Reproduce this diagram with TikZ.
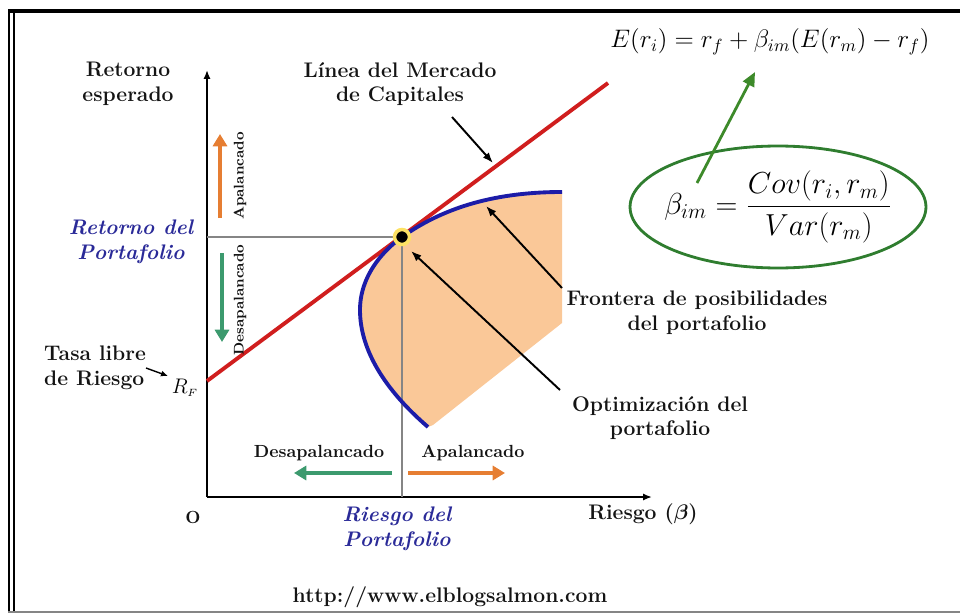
\documentclass[tikz,border=0pt]{standalone}
\usepackage{amsmath}
\usepackage{xcolor}
\usepackage{tikz}
\usetikzlibrary{arrows.meta}
\usetikzlibrary{shapes}

\definecolor{capred}{HTML}{D01E1E}
\definecolor{frontblue}{HTML}{1C1CA8}
\definecolor{labelblue}{HTML}{2A2A98}
\definecolor{regionfill}{HTML}{FAC898}
\definecolor{levorange}{HTML}{E67E32}
\definecolor{delevgreen}{HTML}{3C9A6E}
\definecolor{ovalgreen}{HTML}{2F7D2F}
\definecolor{guidegray}{HTML}{858585}

\begin{document}
\begin{tikzpicture}[x=0.02cm, y=-0.02cm,
  lbl/.style={font=\large\bfseries, align=center, text=black!92},
  bluelbl/.style={font=\large\bfseries\itshape, align=center, text=labelblue},
  pointer/.style={-{Latex[length=6pt,width=4.5pt]}, line width=1.1pt},
  levarrow/.style={-{Triangle[length=7pt,width=8pt]}, line width=2.6pt}]
\useasboundingbox (0,0) rectangle (960,615);

% frame
\draw[line width=1.8pt] (8,11) -- (960,11);
\draw[line width=0.9pt] (9,11) -- (9,612);
\draw[line width=0.9pt] (14,11) -- (14,612);
\draw[line width=1.2pt, guidegray] (8,612) -- (960,612);

% feasible region
\fill[regionfill] (428,427) .. controls (385,390) and (360,350) .. (360,310)
  .. controls (360,275) and (384,250) .. (402,237)
  .. controls (440,210) and (490,192) .. (562,192)
  -- (562,323) -- (433,425) -- cycle;

% axes
\coordinate (O) at (207,497);
\coordinate (ytop) at (207,70);
\coordinate (xend) at (652,497);
\draw[line width=1.1pt, -{Latex[length=5pt,width=4pt]}] (O) -- (ytop);
\draw[line width=1.1pt, -{Latex[length=5pt,width=4pt]}] (O) -- (xend);

% guide lines to the optimal portfolio
\coordinate (opt) at (402,237);
\draw[line width=1.6pt, guidegray] (207,237) -- (opt);
\draw[line width=1.6pt, guidegray] (opt) -- (402,497);

% capital market line
\coordinate (rf) at (207,381);
\coordinate (cmlend) at (608,83);
\draw[line width=2.2pt, capred] (rf) -- (cmlend);

% frontier
\draw[line width=2.2pt, frontblue] (428,427) .. controls (385,390) and (360,350) .. (360,310)
  .. controls (360,275) and (384,250) .. (402,237)
  .. controls (440,210) and (490,192) .. (562,192);

% optimal point
\filldraw[draw=yellow!70!orange!60, line width=2pt, fill=black] (opt) circle (7.5);

% axis labels
\node[lbl] (retesp) at (128,84) {Retorno\\esperado};
\node[lbl] (riesgo) at (643,514) {Riesgo ($\boldsymbol{\beta}$)};
\node[font=\bfseries, text=black!92] (origin) at (193,517) {O};
\node[bluelbl] (retport) at (131,242) {Retorno del\\Portafolio};
\node[bluelbl] (riesport) at (397,529) {Riesgo del\\Portafolio};
\node[lbl, anchor=west, align=left] (tasa) at (38,368) {Tasa libre\\de Riesgo};
\node[font=\large] (rflbl) at (185,388) {$R_{\scriptscriptstyle F}$};
\draw[-{Latex[length=4pt,width=3.5pt]}, line width=0.8pt] (146,368) -- (168,376);

% leverage arrows
\draw[levarrow, levorange] (220,218) -- (220,134);
\draw[levarrow, delevgreen] (222,253) -- (222,342);
\draw[levarrow, delevgreen] (392,473) -- (294,473);
\draw[levarrow, levorange] (408,473) -- (505,473);
\node[font=\footnotesize\bfseries, rotate=90, text=black!92] (apvert) at (240,176) {Apalancado};
\node[font=\footnotesize\bfseries, rotate=90, text=black!92] (desvert) at (240,300) {Desapalancado};
\node[font=\bfseries, text=black!92] (desh) at (319,453) {Desapalancado};
\node[font=\bfseries, text=black!92] (aph) at (473,453) {Apalancado};

% annotations
\node[lbl] (lmc) at (400,84) {L\'inea del Mercado\\de Capitales};
\coordinate (lmcfrom) at (452,117);
\coordinate (lmcto) at (493,163);
\draw[pointer] (lmcfrom) -- (lmcto);

\node[lbl] (fron) at (697,313) {Frontera de posibilidades\\del portafolio};
\coordinate (fronfrom) at (562,288);
\coordinate (fronto) at (486,206);
\draw[pointer] (fronfrom) -- (fronto);

\node[lbl] (optlbl) at (660,418) {Optimizaci\'on del\\portafolio};
\coordinate (optfrom) at (560,390);
\draw[pointer] (optfrom) -- (411,251);

% formulas
\node[font=\Large] (capm) at (770,42) {$E(r_i)=r_f+\beta_{im}(E(r_m)-r_f)$};
\node[font=\LARGE] (beta) at (778,207) {$\displaystyle\beta_{im}=\frac{Cov(r_i,r_m)}{Var(r_m)}$};
\draw[ovalgreen, line width=1.6pt] (beta.center) ellipse [x radius=2.96cm, y radius=1.22cm];
\coordinate (betafrom) at (697,183);
\draw[-{Triangle[length=8pt,width=7pt]}, line width=1.6pt, ovalgreen!90!lime] (betafrom) -- (755,72);

% source
\node[lbl] (url) at (450,597) {http://www.elblogsalmon.com};
\end{tikzpicture}
\end{document}
